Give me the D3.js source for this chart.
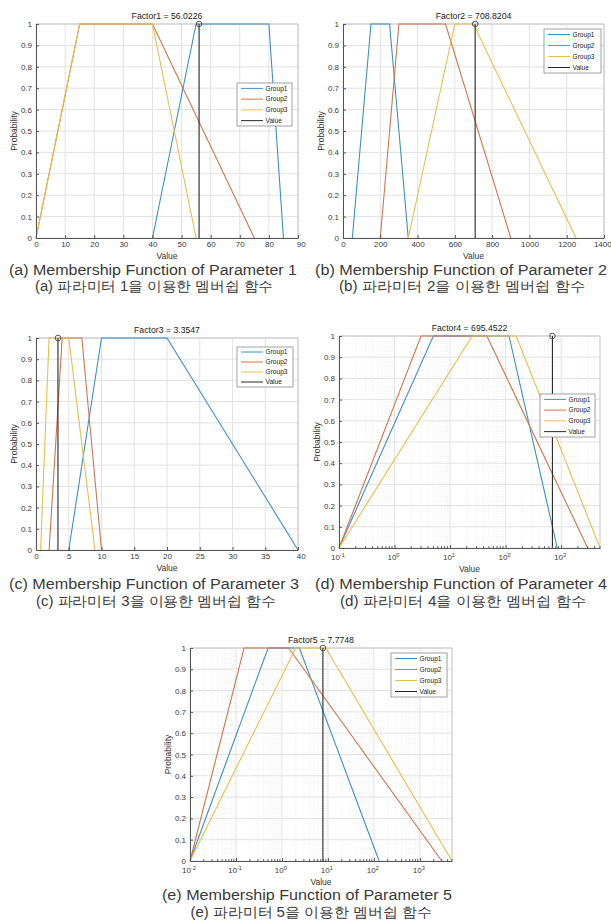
<!DOCTYPE html>
<html lang="ko">
<head>
<meta charset="UTF-8">
<title>Membership Functions</title>
<script src="https://d3js.org/d3.v7.min.js"></script>
<style>
  body { margin: 0; background: #fff; }
  text { font-family: "Liberation Sans", Arial, sans-serif; }
</style>
</head>
<body>
<script>

// values
var factorNames = ["Factor1", "Factor2", "Factor3", "Factor4", "Factor5"];
var factorValues = [56.0226, 708.8204, 3.3547, 695.4522, 7.7748];
var seriesNames = ["Group1", "Group2", "Group3"];
var memberY = [0, 1, 1, 0];

// x breakpoints of each trapezoid, one row per parameter
var group1X = [[40, 55, 80, 85], [50, 150, 250, 350], [5, 10, 20, 40], [0.1, 5, 115, 850], [0.01, 0.5, 2.4, 130]];
var group2X = [[0, 15, 40, 75], [200, 300, 550, 900], [2, 4, 7, 10], [0.1, 3, 46, 3000], [0.01, 0.15, 1.4, 3000]];
var group3X = [[0, 15, 40, 55], [350, 600, 700, 1250], [0.7, 2, 5, 9], [0.1, 25, 155, 5000], [0.01, 2, 9, 5000]];

var xDomains = [[0, 90], [0, 1400], [0, 40], [0.1, 5000], [0.01, 5000]];
var xTicks = [
  [0, 10, 20, 30, 40, 50, 60, 70, 80, 90],
  [0, 200, 400, 600, 800, 1000, 1200, 1400],
  [0, 5, 10, 15, 20, 25, 30, 35, 40],
  [-1, 0, 1, 2, 3],        // exponents of 10
  [-2, -1, 0, 1, 2, 3]
];
var yTicks = [0, 0.1, 0.2, 0.3, 0.4, 0.5, 0.6, 0.7, 0.8, 0.9, 1];

var captionsEn = [
  "(a) Membership Function of Parameter 1",
  "(b) Membership Function of Parameter 2",
  "(c) Membership Function of Parameter 3",
  "(d) Membership Function of Parameter 4",
  "(e) Membership Function of Parameter 5"
];
var captionsKo = [
  "(a) 파라미터 1을 이용한 멤버쉽 함수",
  "(b) 파라미터 2을 이용한 멤버쉽 함수",
  "(c) 파라미터 3을 이용한 멤버쉽 함수",
  "(d) 파라미터 4을 이용한 멤버쉽 함수",
  "(e) 파라미터 5을 이용한 멤버쉽 함수"
];

// layout
var boxes = [
  {x0: 36, x1: 298, y0: 24, y1: 238},
  {x0: 343, x1: 604, y0: 24, y1: 238},
  {x0: 36, x1: 298, y0: 338, y1: 550},
  {x0: 339, x1: 600, y0: 336, y1: 548},
  {x0: 190, x1: 452, y0: 648, y1: 861}
];
var legends = [
  {x: 237, y: 83, w: 55, h: 43},
  {x: 544, y: 29, w: 57, h: 44},
  {x: 237, y: 347, w: 56, h: 40},
  {x: 540, y: 394, w: 55, h: 43},
  {x: 391, y: 653, w: 56, h: 44}
];
var captionPos = [
  {cx: 153, y1: 269.5, w1: 288, cx2: 154, y2: 285.5, w2: 238},
  {cx: 461, y1: 269.5, w1: 292, cx2: 462, y2: 285.5, w2: 246},
  {cx: 154, y1: 584, w1: 290, cx2: 156, y2: 601, w2: 240},
  {cx: 461, y1: 584, w1: 292, cx2: 463, y2: 601, w2: 246},
  {cx: 307, y1: 895, w1: 290, cx2: 311, y2: 912, w2: 241}
];

var colors = ["#3b90c6", "#d4744a", "#e7bd4c"];
var valueColor = "#262626";

var svg = d3.select("body")
  .append("svg")
    .attr("width", 611)
    .attr("height", 923);

svg.append("rect").attr("width", 611).attr("height", 923).attr("fill", "#fff");

function isDecade(t) {
  var e = Math.log10(t);
  return Math.abs(e - Math.round(e)) < 1e-9;
}

factorValues.forEach(function(value, i) {
  var b = boxes[i];
  var isLog = i >= 3;
  var x = (isLog ? d3.scaleLog() : d3.scaleLinear())
      .domain(xDomains[i])
      .range([b.x0, b.x1]);
  var y = d3.scaleLinear().domain([0, 1]).range([b.y1, b.y0]);
  var majorX = isLog ? xTicks[i].map(function(e) { return Math.pow(10, e); }) : xTicks[i];

  var g = svg.append("g");

  // minor grid on log axes (x only)
  if (isLog) {
    var minorX = x.ticks().filter(function(t) { return !isDecade(t); });
    g.append("g").selectAll("line")
      .data(minorX)
      .enter().append("line")
        .attr("x1", function(d) { return x(d); })
        .attr("x2", function(d) { return x(d); })
        .attr("y1", b.y0).attr("y2", b.y1)
        .attr("stroke", "#e6e6e6")
        .attr("stroke-width", 0.8)
        .attr("stroke-dasharray", "1,1.5");
  }

  // major grid
  g.append("g").selectAll("line")
    .data(majorX)
    .enter().append("line")
      .attr("x1", function(d) { return x(d); })
      .attr("x2", function(d) { return x(d); })
      .attr("y1", b.y0).attr("y2", b.y1)
      .attr("stroke", "#e2e2e2");
  g.append("g").selectAll("line")
    .data(yTicks)
    .enter().append("line")
      .attr("x1", b.x0).attr("x2", b.x1)
      .attr("y1", function(d) { return y(d); })
      .attr("y2", function(d) { return y(d); })
      .attr("stroke", "#e2e2e2");

  // top and right box edges
  g.append("path")
    .attr("d", "M" + b.x0 + "," + b.y0 + "H" + b.x1 + "V" + b.y1)
    .attr("fill", "none")
    .attr("stroke", "#c4c4c4");

  // membership functions
  var line = d3.line()
    .x(function(d) { return x(d[0]); })
    .y(function(d) { return y(d[1]); });

  [group1X, group2X, group3X].forEach(function(arr, k) {
    g.append("path")
      .datum(d3.zip(arr[i], memberY))
      .attr("d", line)
      .attr("fill", "none")
      .attr("stroke", colors[k])
      .attr("stroke-width", 1.1);
  });

  // current value
  g.append("line")
    .attr("x1", x(value)).attr("x2", x(value))
    .attr("y1", y(0)).attr("y2", y(1))
    .attr("stroke", valueColor)
    .attr("stroke-width", 1.1);
  g.append("circle")
    .attr("cx", x(value)).attr("cy", y(1)).attr("r", 2.8)
    .attr("fill", "none")
    .attr("stroke", "#444")
    .attr("stroke-width", 0.9);

  // x axis
  var xAxis = d3.axisBottom(x)
      .tickValues(majorX)
      .tickSize(-3)
      .tickSizeOuter(0)
      .tickPadding(isLog ? 6 : 3.5)
      .tickFormat(isLog ? function() { return "10"; } : d3.format("d"));
  var gx = g.append("g")
    .attr("transform", "translate(0," + b.y1 + ")")
    .call(xAxis);

  if (isLog) {
    gx.selectAll(".tick text").each(function(d) {
      var t = d3.select(this);
      t.attr("dx", "-0.2em");
      t.append("tspan")
        .attr("dy", "-0.45em")
        .attr("font-size", "5.6px")
        .text(String(Math.round(Math.log10(d))));
    });
    var minorTicks = x.ticks().filter(function(t) { return !isDecade(t); });
    gx.selectAll(".minor-tick")
      .data(minorTicks)
      .enter().append("line")
        .attr("x1", function(d) { return x(d); })
        .attr("x2", function(d) { return x(d); })
        .attr("y1", 0).attr("y2", -1.8)
        .attr("stroke", "#555");
  } else {
    // keep the last label inside the page
    gx.selectAll(".tick text").filter(function(d, k, n) { return k === n.length - 1; })
      .attr("text-anchor", "end")
      .attr("dx", "0.9em");
  }

  // y axis
  var gy = g.append("g")
    .attr("transform", "translate(" + b.x0 + ",0)")
    .call(d3.axisLeft(y)
      .tickValues(yTicks)
      .tickSize(-3)
      .tickSizeOuter(0)
      .tickPadding(4)
      .tickFormat(function(d) { return d3.format("")(+d.toFixed(1)); }));

  [gx, gy].forEach(function(ax) {
    ax.select(".domain").attr("stroke", "#555");
    ax.selectAll(".tick line").attr("stroke", "#555");
    ax.selectAll(".tick text")
      .attr("fill", "#3a3a3a")
      .attr("font-size", "8px")
      .attr("font-family", "Liberation Sans, Arial, sans-serif");
  });

  // title and labels
  g.append("text")
    .attr("x", (b.x0 + b.x1) / 2)
    .attr("y", b.y0 - 5)
    .attr("text-anchor", "middle")
    .attr("font-size", "8.7px")
    .attr("fill", "#222")
    .text(factorNames[i] + " = " + value.toFixed(4));

  g.append("text")
    .attr("x", (b.x0 + b.x1) / 2)
    .attr("y", b.y1 + (isLog ? 24 : 20.5))
    .attr("text-anchor", "middle")
    .attr("font-size", "8.5px")
    .attr("fill", "#333")
    .text("Value");

  g.append("text")
    .attr("transform", "translate(" + (b.x0 - 19.5) + "," + ((b.y0 + b.y1) / 2) + ") rotate(-90)")
    .attr("text-anchor", "middle")
    .attr("font-size", "8.5px")
    .attr("fill", "#333")
    .text("Probability");

  // legend
  var L = legends[i];
  var lg = g.append("g").attr("transform", "translate(" + L.x + "," + L.y + ")");
  lg.append("rect")
    .attr("width", L.w).attr("height", L.h)
    .attr("fill", "#fff")
    .attr("stroke", "#8a8a8a")
    .attr("stroke-width", 0.8);
  var names = seriesNames.concat(["Value"]);
  var lcol = colors.concat([valueColor]);
  names.forEach(function(n, k) {
    var ry = L.h * (k + 0.5) / 4;
    lg.append("line")
      .attr("x1", 4).attr("x2", 26)
      .attr("y1", ry).attr("y2", ry)
      .attr("stroke", lcol[k])
      .attr("stroke-width", 1);
    lg.append("text")
      .attr("x", 28.5).attr("y", ry)
      .attr("dy", "0.35em")
      .attr("font-size", "6.6px")
      .attr("fill", "#222")
      .text(n);
  });

  // captions
  var c = captionPos[i];
  svg.append("text")
    .attr("x", c.cx).attr("y", c.y1)
    .attr("dy", "0.36em")
    .attr("text-anchor", "middle")
    .attr("font-size", "14px")
    .attr("font-family", "Noto Sans CJK KR, Noto Sans, sans-serif")
    .attr("font-weight", 300)
    .attr("fill", "#3a3a3a")
    .attr("textLength", c.w1)
    .attr("lengthAdjust", "spacingAndGlyphs")
    .text(captionsEn[i]);
  svg.append("text")
    .attr("x", c.cx2).attr("y", c.y2)
    .attr("dy", "0.36em")
    .attr("text-anchor", "middle")
    .attr("font-size", "14px")
    .attr("font-family", "Noto Sans CJK KR, sans-serif")
    .attr("font-weight", 300)
    .attr("fill", "#3a3a3a")
    .attr("textLength", c.w2)
    .attr("lengthAdjust", "spacingAndGlyphs")
    .text(captionsKo[i]);
});
</script>
</body>
</html>
